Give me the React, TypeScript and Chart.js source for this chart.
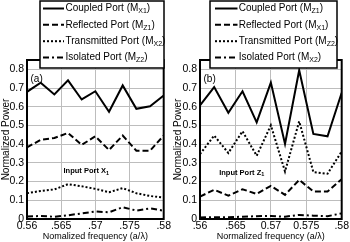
import React, { useEffect, useRef } from "react";
import { Chart, registerables } from "chart.js";

Chart.register(...registerables);

// ---------- data ----------
const freq = [0.56, 0.562, 0.564, 0.566, 0.568, 0.57, 0.572, 0.574, 0.576, 0.578, 0.58];

const xTickValues = [0.56, 0.565, 0.57, 0.575, 0.58];
const xTickLabelsA = ["0.56", ".565", ".57", ".575", ".58"];
const xTickLabelsB = [".56", ".565", "0.57", "0.575", ".58"];
const yTickValues = [0, 0.1, 0.2, 0.3, 0.4, 0.5, 0.6, 0.7, 0.8];
const yTickLabels = ["0", "0.1", "0.2", "0.3", "0.4", "0.5", "0.6", "0.7", "0.8"];

const seriesNames = ["Coupled Port", "Reflected Port", "Transmitted Port", "Isolated Port"];
const legendSubsA = ["X1", "Z1", "X2", "Z2"];
const legendSubsB = ["Z1", "X1", "Z2", "X2"];

// Panel (a): input port X1
const aCoupled = [0.68, 0.729, 0.666, 0.741, 0.639, 0.683, 0.573, 0.714, 0.589, 0.603, 0.66];
const aReflected = [0.383, 0.423, 0.433, 0.46, 0.396, 0.442, 0.369, 0.446, 0.365, 0.365, 0.446];
const aTransmitted = [0.138, 0.15, 0.158, 0.186, 0.175, 0.161, 0.143, 0.165, 0.138, 0.123, 0.114];
const aIsolated = [0.014, 0.016, 0.012, 0.02, 0.03, 0.04, 0.036, 0.063, 0.045, 0.057, 0.044];

// Panel (b): input port Z1
const bCoupled = [0.608, 0.705, 0.568, 0.683, 0.517, 0.729, 0.401, 0.795, 0.455, 0.442, 0.675];
const bReflected = [0.12, 0.156, 0.125, 0.159, 0.134, 0.177, 0.129, 0.209, 0.147, 0.147, 0.213];
const bTransmitted = [0.347, 0.446, 0.353, 0.469, 0.338, 0.501, 0.254, 0.522, 0.251, 0.242, 0.361];
const bIsolated = [0.008, 0.01, 0.01, 0.012, 0.015, 0.016, 0.012, 0.022, 0.018, 0.015, 0.03];

// ---------- styling ----------
const FONT = "'Liberation Sans', Arial, Helvetica, sans-serif";
const dashes: number[][] = [[], [6, 3], [2, 2], [6, 3, 2, 3]];

type PanelCfg = {
  width: number;
  yWidth: number;
  padRight: number;
  tag: string;
  xLabels: string[];
  xTitle: string;
  inputMain: string;
  inputSub: string;
  inputDx: number;
  inputY: number;
  series: number[][];
  subs: string[];
  box: { x0: number; x1: number; y0: number; y1: number; sx0: number; sx1: number; tx: number };
};

function drawSubText(
  ctx: CanvasRenderingContext2D,
  parts: [string, string, string],
  x: number,
  y: number,
  size: number,
  subSize: number,
  bold: boolean,
  align: "left" | "center"
) {
  const w = bold ? "bold " : "";
  ctx.font = `${w}${size}px ${FONT}`;
  const w1 = ctx.measureText(parts[0]).width;
  const w3 = ctx.measureText(parts[2]).width;
  ctx.font = `${w}${subSize}px ${FONT}`;
  const w2 = ctx.measureText(parts[1]).width;
  let sx = x;
  if (align === "center") sx = x - (w1 + w2 + w3) / 2;
  ctx.textAlign = "left";
  ctx.textBaseline = "middle";
  ctx.fillStyle = "#000";
  ctx.font = `${w}${size}px ${FONT}`;
  ctx.fillText(parts[0], sx, y);
  ctx.font = `${w}${subSize}px ${FONT}`;
  ctx.fillText(parts[1], sx + w1, y + size * 0.3);
  ctx.font = `${w}${size}px ${FONT}`;
  ctx.fillText(parts[2], sx + w1 + w2, y);
}

function makeOverlay(cfg: PanelCfg) {
  return {
    id: "overlay",
    afterDraw(chart: any) {
      const ctx: CanvasRenderingContext2D = chart.ctx;
      const a = chart.chartArea;
      ctx.save();
      // frame
      ctx.strokeStyle = "#000";
      ctx.lineWidth = 2;
      ctx.setLineDash([]);
      ctx.strokeRect(a.left, a.top, a.right - a.left, a.bottom - a.top);
      // panel tag
      ctx.font = `10px ${FONT}`;
      ctx.fillStyle = "#000";
      ctx.textAlign = "left";
      ctx.textBaseline = "middle";
      ctx.fillText(cfg.tag, a.left + 3.5, a.top + 19.5);
      // input port text
      drawSubText(ctx, [cfg.inputMain, cfg.inputSub, ""], a.left + cfg.inputDx, cfg.inputY, 7.5, 5.5, true, "center");
      // legend box
      const b = cfg.box;
      ctx.fillStyle = "#fff";
      ctx.fillRect(b.x0, b.y0, b.x1 - b.x0, b.y1 - b.y0);
      ctx.strokeStyle = "#000";
      ctx.lineWidth = 1.5;
      ctx.strokeRect(b.x0, b.y0, b.x1 - b.x0, b.y1 - b.y0);
      const rows = [8.5, 24.8, 41.2, 57.5];
      for (let i = 0; i < 4; i++) {
        const y = rows[i];
        ctx.beginPath();
        ctx.setLineDash(dashes[i]);
        ctx.lineWidth = 2;
        ctx.moveTo(b.sx0, y);
        ctx.lineTo(b.sx1, y);
        ctx.stroke();
        ctx.setLineDash([]);
        drawSubText(ctx, [seriesNames[i] + " (M", cfg.subs[i], ")"], b.tx, y, 10, 7, false, "left");
      }
      ctx.restore();
    },
  };
}

function Panel({ cfg }: { cfg: PanelCfg }) {
  const ref = useRef<HTMLCanvasElement | null>(null);
  useEffect(() => {
    if (!ref.current) return;
    const datasets = cfg.series.map((s, i) => ({
      label: seriesNames[i],
      data: s.map((v, j) => ({ x: freq[j], y: v })),
      borderColor: "#000",
      backgroundColor: "#000",
      borderWidth: 2,
      borderDash: dashes[i],
      pointRadius: 0,
      tension: 0,
      fill: false,
    }));
    const tickFont = { family: FONT, size: 10.5 };
    const chart = new Chart(ref.current, {
      type: "line",
      data: { datasets },
      plugins: [makeOverlay(cfg)],
      options: {
        animation: false,
        responsive: false,
        devicePixelRatio: 1,
        layout: { padding: { top: 60, right: cfg.padRight, left: 0, bottom: 0 } },
        plugins: { legend: { display: false }, tooltip: { enabled: false } },
        scales: {
          x: {
            type: "linear",
            min: 0.56,
            max: 0.58,
            afterFit: (s: any) => {
              s.height = 23;
            },
            afterBuildTicks: (s: any) => {
              s.ticks = xTickValues.map((v) => ({ value: v }));
            },
            ticks: {
              callback: (_v: any, i: number) => cfg.xLabels[i],
              font: tickFont,
              color: "#000",
              padding: 1,
              maxRotation: 0,
              autoSkip: false,
            },
            grid: { color: "#bdbdbd", drawTicks: false, lineWidth: 1 },
            border: { display: false },
            title: {
              display: true,
              text: cfg.xTitle,
              font: { family: FONT, size: 9 },
              color: "#000",
              padding: 0,
            },
          },
          y: {
            min: 0,
            max: 0.85,
            afterFit: (s: any) => {
              s.width = cfg.yWidth;
            },
            afterBuildTicks: (s: any) => {
              s.ticks = yTickValues.map((v) => ({ value: v }));
            },
            ticks: {
              callback: (_v: any, i: number) => yTickLabels[i],
              font: tickFont,
              color: "#000",
              padding: 3,
            },
            grid: { color: "#bdbdbd", drawTicks: false, lineWidth: 1 },
            border: { display: false },
            title: {
              display: true,
              text: "Normalized Power",
              font: { family: FONT, size: 10 },
              color: "#000",
              padding: 0,
            },
          },
        },
      } as any,
    });
    return () => chart.destroy();
  }, [cfg]);
  return <canvas ref={ref} width={cfg.width} height={242} style={{ display: "block" }} />;
}

const cfgA: PanelCfg = {
  width: 172,
  yWidth: 27,
  padRight: 1,
  tag: "(a)",
  xLabels: xTickLabelsA,
  xTitle: "Nomalized frequency (a/λ)",
  inputMain: "Input Port X",
  inputSub: "1",
  inputDx: 59.3,
  inputY: 171,
  series: [aCoupled, aReflected, aTransmitted, aIsolated],
  subs: legendSubsA,
  box: { x0: 40, x1: 164, y0: 1, y1: 68, sx0: 43, sx1: 64, tx: 65.5 },
};

const cfgB: PanelCfg = {
  width: 178,
  yWidth: 28,
  padRight: 6,
  tag: "(b)",
  xLabels: xTickLabelsB,
  xTitle: "Normalized frequency (a/λ)",
  inputMain: "Input Port Z",
  inputSub: "1",
  inputDx: 41.7,
  inputY: 172.7,
  series: [bCoupled, bReflected, bTransmitted, bIsolated],
  subs: legendSubsB,
  box: { x0: 38, x1: 165, y0: 1, y1: 68, sx0: 43, sx1: 65.5, tx: 66.7 },
};

export default function App() {
  return (
    <div
      style={{
        position: "fixed",
        left: 0,
        top: 0,
        width: 350,
        height: 242,
        background: "#fff",
        display: "flex",
        flexDirection: "row",
      }}
    >
      <Panel cfg={cfgA} />
      <Panel cfg={cfgB} />
    </div>
  );
}
